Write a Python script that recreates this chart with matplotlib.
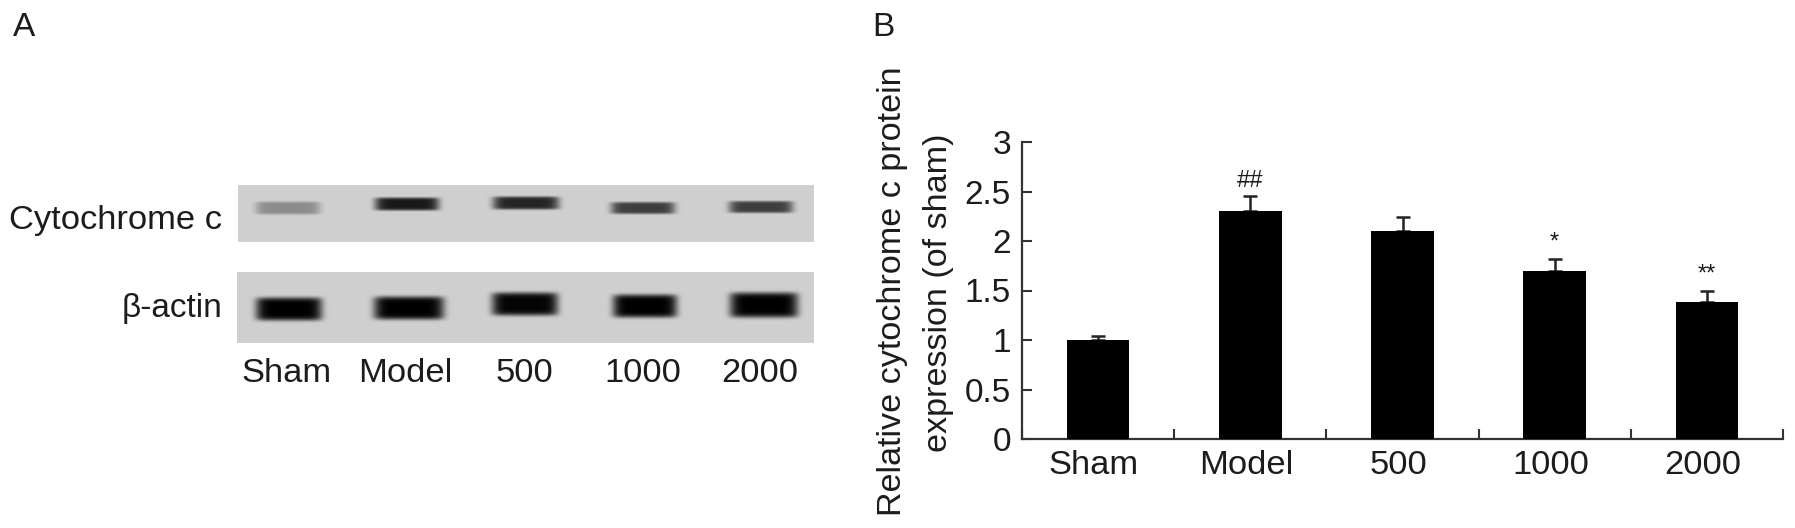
import matplotlib
matplotlib.use("Agg")
import matplotlib.pyplot as plt
from matplotlib.transforms import ScaledTranslation
import numpy as np

plt.rcParams["font.family"] = ["Liberation Sans", "DejaVu Sans"]

W, H = 1795, 528
TEXT = "#1c1c1c"

# bar chart values
groups = ["Sham", "Model", "500", "1000", "2000"]
means = [1.0, 2.3, 2.1, 1.7, 1.38]
errors = [0.04, 0.15, 0.14, 0.12, 0.12]
marks = ["", "##", "", "*", "**"]
yticks = [0, 0.5, 1, 1.5, 2, 2.5, 3]
ytick_labels = ["0", "0.5", "1", "1.5", "2", "2.5", "3"]

# blot bands, image pixels: centre x, centre y, half width, half height, darkness
cyto_x = [288, 407, 526, 643, 761]
cyto_y = [208, 204, 203, 208, 207]
cyto_hw = [32, 32, 33, 32, 32]
cyto_hh = [6.5, 6.5, 6.5, 6, 6]
cyto_dark = [0.33, 0.88, 0.82, 0.7, 0.7]

actin_x = [289, 409, 525, 645, 764]
actin_y = [309, 308, 304, 306, 305]
actin_hw = [33, 35, 33, 32, 34]
actin_hh = [11.5, 11.5, 11.5, 11.5, 12.5]
actin_dark = [1.0, 1.0, 0.98, 1.0, 1.0]


def blot(ax, extent, xs, ys, hws, hhs, darks, base=0.81):
    x0, x1, y0, y1 = extent
    xx, yy = np.meshgrid(np.arange(x0, x1) + 0.5, np.arange(y0, y1) + 0.5)
    img = np.full(xx.shape, base, dtype=float)
    for cx, cy, hw, hh, d in zip(xs, ys, hws, hhs, darks):
        shape = np.exp(-((xx - cx) / hw) ** 8 - ((yy - cy) / hh) ** 6)
        img -= d * base * shape
    ax.imshow(img, cmap="gray", vmin=0, vmax=1, extent=(x0, x1, y1, y0),
              interpolation="bilinear", aspect="auto", zorder=1)


fig = plt.figure(figsize=(W / 100, H / 100), dpi=100)

# panel A, drawn in pixel coordinates
page = fig.add_axes([0, 0, 1, 1])
blot(page, (238, 814, 185, 242), cyto_x, cyto_y, cyto_hw, cyto_hh, cyto_dark)
blot(page, (237, 814, 272, 343), actin_x, actin_y, actin_hw, actin_hh, actin_dark)
page.set_xlim(0, W)
page.set_ylim(H, 0)
page.axis("off")

page.text(222, 221, "Cytochrome c", ha="right", va="center", fontsize=24.8, color=TEXT)
page.text(222, 308, "β-actin", ha="right", va="center", fontsize=24, color=TEXT)
for cx, name in zip([287, 405, 524, 643, 760], groups):
    page.text(cx, 374, name, ha="center", va="center", fontsize=24.8, color=TEXT)
page.text(24, 28, "A", ha="center", va="center", fontsize=24, color=TEXT)
page.text(883, 28, "B", ha="center", va="center", fontsize=24, color=TEXT)

# panel B
ax = fig.add_axes([1022 / W, (H - 439) / H, 761 / W, 297 / H])
x = np.arange(len(groups))
ax.bar(x, means, width=0.41, color="black", zorder=3)
ax.errorbar(x, means, yerr=[np.zeros(len(errors)), errors], fmt="none",
            ecolor="#222222", elinewidth=1.8, capsize=5, capthick=1.8, zorder=2)
for i, m in enumerate(marks):
    if m:
        ax.text(i, means[i] + errors[i] + 0.16, m, ha="center", va="center",
                fontsize=17, color=TEXT)

ax.set_xlim(-0.5, 4.5)
ax.set_ylim(0, 3)
ax.set_yticks(yticks)
ax.set_yticklabels(ytick_labels)
ax.set_xticks(np.arange(-0.5, 5, 1))
ax.set_xticklabels([])
ax.set_xticks(x, minor=True)
ax.set_xticklabels(groups, minor=True)
ax.tick_params(axis="x", which="major", direction="in", length=7, width=1.5, color="#333333")
ax.tick_params(axis="x", which="minor", length=0, pad=8, labelsize=24.8, labelcolor=TEXT)
ax.tick_params(axis="y", direction="in", length=7, width=1.5, color="#333333",
               pad=8, labelsize=24, labelcolor=TEXT)
shift = ScaledTranslation(-3 / 72, 0, fig.dpi_scale_trans)
for label in ax.get_xticklabels(minor=True):
    label.set_transform(label.get_transform() + shift)
ax.spines["top"].set_visible(False)
ax.spines["right"].set_visible(False)
for side in ["left", "bottom"]:
    ax.spines[side].set_linewidth(1.6)
    ax.spines[side].set_color("#333333")

page.text(893, 291, "Relative cytochrome c protein", rotation=90, ha="center", va="center",
          fontsize=24.6, color=TEXT)
page.text(939, 293, "expression (of sham)", rotation=90, ha="center", va="center",
          fontsize=24.6, color=TEXT)

fig.savefig("out.png", dpi=100)
